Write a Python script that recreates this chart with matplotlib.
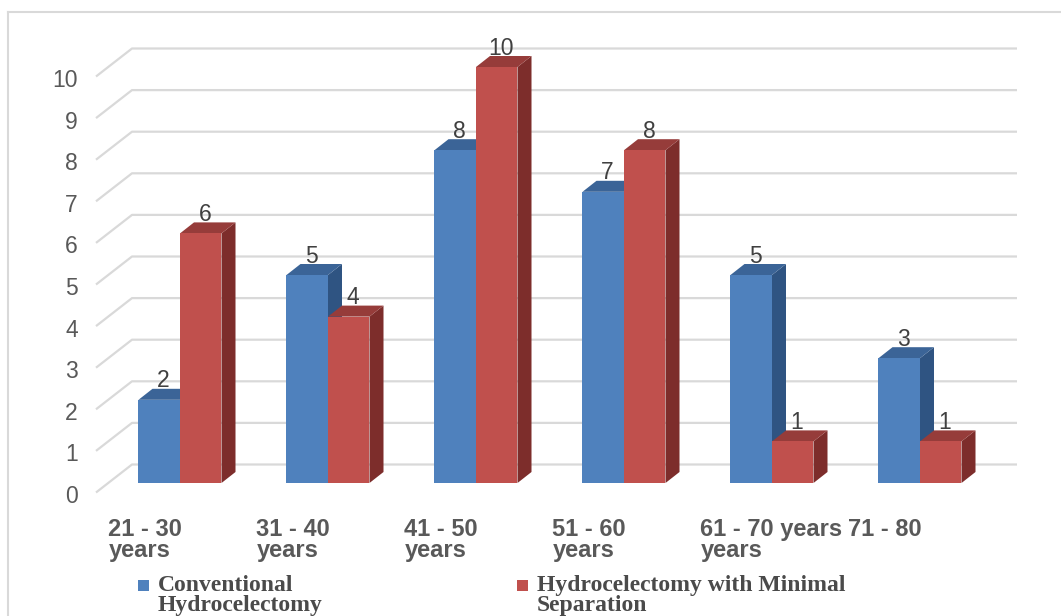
import matplotlib
matplotlib.use('Agg')
import matplotlib.pyplot as plt
from matplotlib.patches import Polygon, Rectangle

# ---- data ----
categories = ["21 - 30\nyears", "31 - 40\nyears", "41 - 50\nyears",
              "51 - 60\nyears", "61 - 70 years\nyears", "71 - 80"]
conventional = [2, 5, 8, 7, 5, 3]
minimal = [6, 4, 10, 8, 1, 1]
series_names = ["Conventional\nHydrocelectomy", "Hydrocelectomy with Minimal\nSeparation"]
y_ticks = list(range(0, 11))

# ---- layout ----
W, H = 1061, 616
fig = plt.figure(figsize=(W / 100, H / 100), dpi=100)
ax = fig.add_axes([0, 0, 1, 1])
PX0, PXU, PY0, PYU = 180.0, 148.0, 483.0, 41.6


def X(px):
    return (px - PX0) / PXU


def Y(py):
    return (PY0 - py) / PYU


ax.set_xlim(X(0), X(W))
ax.set_ylim(Y(H), Y(0))
ax.axis('off')

SANS = ['Liberation Sans', 'DejaVu Sans']
SERIF = ['Liberation Serif', 'DejaVu Serif']
GRID = '#D9D9D9'
TXT = '#595959'

# outer chart border (top and left)
ax.plot([X(8), X(8)], [Y(12), Y(H + 5)], color=GRID, lw=1.5, zorder=1, clip_on=False)
ax.plot([X(8), X(W + 5)], [Y(12), Y(12)], color=GRID, lw=1.5, zorder=1, clip_on=False)

# 3D offsets (data units)
bw = 41.5 / PXU
ddx, ddy = 14 / PXU, 11 / PYU
front_dy = -9.5 / PYU
back_dy = 18.5 / PYU
gx_front, gx_back, gx_right = X(96), X(132), X(1017)

for v in y_ticks:
    ax.plot([gx_front, gx_back, gx_right], [v + front_dy, v + back_dy, v + back_dy],
            color=GRID, lw=1.6, zorder=1, solid_capstyle='butt')
    ax.text(X(78), v + front_dy - 4 / PYU, str(v), ha='right', va='center',
            fontsize=16.5, color=TXT, family=SANS)

blue = dict(front='#4F81BD', top='#3B6497', side='#2F5482')
red = dict(front='#C0504D', top='#963C3A', side='#7D2D2B')


def bar3d(xl, v, c, z):
    ax.add_patch(Polygon([(xl + bw, 0), (xl + bw + ddx, ddy), (xl + bw + ddx, v + ddy), (xl + bw, v)],
                         closed=True, fc=c['side'], ec='none', zorder=z))
    ax.add_patch(Polygon([(xl, v), (xl + bw, v), (xl + bw + ddx, v + ddy), (xl + ddx, v + ddy)],
                         closed=True, fc=c['top'], ec='none', zorder=z))
    ax.add_patch(Rectangle((xl, 0), bw, v, fc=c['front'], ec='none', zorder=z + 0.5))
    ax.text(xl + bw / 2 + ddx * 0.3, v + ddy + 1.5 / PYU, str(v), ha='center', va='baseline',
            fontsize=16.5, color='#404040', family=SANS, zorder=10)


for i in range(len(categories)):
    bar3d(i - bw, conventional[i], blue, 2)
for i in range(len(categories)):
    bar3d(i, minimal[i], red, 4)

# category labels
for i, lab in enumerate(categories):
    ax.text(i - bw - 30 / PXU, Y(518), lab, ha='left', va='top', fontsize=17,
            fontweight='bold', color=TXT, family=SANS, linespacing=0.87)

# legend
for (sx, tx), name, c in zip([(138.5, 158), (517, 537)], series_names, [blue, red]):
    ax.add_patch(Rectangle((X(sx), Y(591)), 11 / PXU, 11.5 / PYU, fc=c['front'], ec='none',
                           clip_on=False))
    ax.text(X(tx), Y(575), name, ha='left', va='top', fontsize=17, fontweight='bold',
            color='#4A4A4A', family=SERIF, linespacing=0.95)

fig.savefig('out.png', dpi=100)
